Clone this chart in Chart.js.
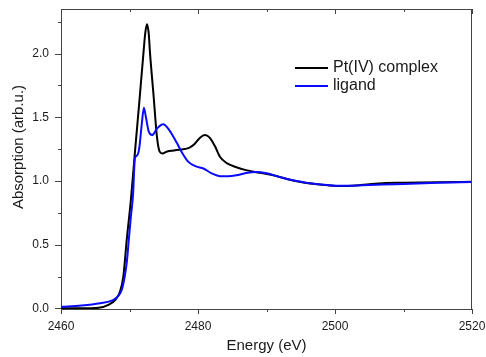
<!DOCTYPE html>
<html>
<head>
<meta charset="utf-8">
<script src="https://cdn.jsdelivr.net/npm/chart.js@4/dist/chart.umd.min.js"></script>
<style>
html,body{margin:0;padding:0;background:#fff;}
canvas{display:block;}
</style>
</head>
<body>
<canvas id="c" width="486" height="357"></canvas>
<script>
// ---- data ----
const energyComplex = [2460, 2463, 2465.5, 2467, 2468, 2468.6, 2469.1, 2469.6, 2470.2, 2470.8, 2471.4, 2472.0, 2472.3, 2472.55, 2472.8, 2473.0, 2473.5, 2474.0, 2474.4, 2474.8, 2475.5, 2476.5, 2477.5, 2478.7, 2479.5, 2480.3, 2481.0, 2481.7, 2482.5, 2483.2, 2484.2, 2485.5, 2487, 2489, 2491, 2493, 2495, 2497, 2499, 2501, 2503, 2505, 2507, 2510, 2515, 2520];
const absComplex    = [0.0, 0.0, 0.005, 0.03, 0.07, 0.13, 0.25, 0.54, 0.85, 1.23, 1.6, 1.98, 2.16, 2.23, 2.16, 2.0, 1.68, 1.35, 1.23, 1.215, 1.232, 1.24, 1.247, 1.26, 1.29, 1.34, 1.36, 1.34, 1.27, 1.19, 1.14, 1.11, 1.085, 1.065, 1.045, 1.015, 0.992, 0.977, 0.966, 0.96, 0.965, 0.975, 0.983, 0.986, 0.99, 0.993];

const energyLigand = [2460, 2463, 2465.7, 2467.6, 2468.4, 2468.9, 2469.3, 2469.6, 2469.9, 2470.2, 2470.5, 2470.8, 2471.1, 2471.4, 2471.8, 2472.1, 2472.4, 2472.8, 2473.3, 2474.0, 2474.9, 2475.8, 2476.9, 2477.7, 2478.6, 2479.7, 2480.8, 2482, 2483.2, 2484.4, 2485.6, 2487, 2488.5, 2490, 2492, 2494, 2496, 2498, 2500, 2502, 2504, 2507, 2510, 2515, 2520];
const absLigand    = [0.013, 0.022, 0.04, 0.065, 0.1, 0.15, 0.25, 0.36, 0.54, 0.72, 0.88, 1.18, 1.2, 1.25, 1.45, 1.575, 1.5, 1.39, 1.36, 1.41, 1.445, 1.40, 1.3, 1.22, 1.15, 1.115, 1.098, 1.06, 1.038, 1.038, 1.045, 1.062, 1.07, 1.06, 1.03, 1.003, 0.985, 0.972, 0.963, 0.962, 0.966, 0.972, 0.977, 0.986, 0.992];

const seriesNames = ['Pt(IV) complex', 'ligand'];
const xTickValues = [2460, 2470, 2480, 2490, 2500, 2510, 2520];
const xTickLabels = ['2460', '', '2480', '', '2500', '', '2520'];
const yTickValues = [0, 0.25, 0.5, 0.75, 1.0, 1.25, 1.5, 1.75, 2.0, 2.25];
const yTickLabels = ['0.0', '', '0.5', '', '1.0', '', '1.5', '', '2.0', ''];
const xTitle = 'Energy (eV)';
const yTitle = 'Absorption (arb.u.)';

// ---- styling ----
const FONT = '"Liberation Sans", Arial, sans-serif';
const AXIS_COLOR = '#444';
const TEXT_COLOR = '#1a1a1a';
const colorComplex = '#000000';
const colorLigand = '#0a0aff';

const toPts = (xs, ys) => xs.map((x, i) => ({x: x, y: ys[i]}));

const frameTicks = {
  id: 'frameTicks',
  afterDatasetsDraw(chart) {
    const {ctx, chartArea: a, scales: {x, y}} = chart;
    ctx.save();
    ctx.strokeStyle = AXIS_COLOR;
    ctx.lineWidth = 1;
    // top and right frame
    ctx.beginPath();
    ctx.moveTo(a.left, a.top + 0.5); ctx.lineTo(a.right, a.top + 0.5);
    ctx.moveTo(a.right - 0.5, a.top); ctx.lineTo(a.right - 0.5, a.bottom);
    ctx.stroke();
    ctx.beginPath();
    xTickValues.forEach((v, i) => {
      const px = Math.round(x.getPixelForValue(v)) + 0.5;
      const major = xTickLabels[i] !== '';
      const len = major ? 5 : 3;
      ctx.moveTo(px, a.bottom); ctx.lineTo(px, a.bottom + len);
      ctx.moveTo(px, a.top); ctx.lineTo(px, a.top + len);
    });
    yTickValues.forEach((v, i) => {
      const py = Math.round(y.getPixelForValue(v)) + 0.5;
      const major = yTickLabels[i] !== '';
      const len = major ? 6 : 3;
      ctx.moveTo(a.left, py); ctx.lineTo(a.left - len, py);
    });
    ctx.stroke();

    // y axis title
    ctx.save();
    ctx.translate(19, 147);
    ctx.rotate(-Math.PI / 2);
    ctx.font = '15px ' + FONT;
    ctx.fillStyle = TEXT_COLOR;
    ctx.textAlign = 'center';
    ctx.textBaseline = 'middle';
    ctx.fillText(yTitle, 0, 0);
    ctx.restore();

    // legend
    const items = [
      {name: seriesNames[0], color: colorComplex, y: 68},
      {name: seriesNames[1], color: colorLigand, y: 86}
    ];
    ctx.font = '16px ' + FONT;
    ctx.textBaseline = 'middle';
    ctx.textAlign = 'left';
    items.forEach(it => {
      ctx.strokeStyle = it.color;
      ctx.lineWidth = 2;
      ctx.beginPath();
      ctx.moveTo(295, it.y); ctx.lineTo(328, it.y);
      ctx.stroke();
      ctx.fillStyle = TEXT_COLOR;
      ctx.fillText(it.name, 333, it.y);
    });
    ctx.restore();
  }
};

new Chart(document.getElementById('c'), {
  type: 'line',
  data: {
    datasets: [
      {label: seriesNames[1], data: toPts(energyLigand, absLigand), borderColor: colorLigand, borderWidth: 2, pointRadius: 0, fill: false, cubicInterpolationMode: 'monotone'},
      {label: seriesNames[0], data: toPts(energyComplex, absComplex), borderColor: colorComplex, borderWidth: 2, pointRadius: 0, fill: false, cubicInterpolationMode: 'monotone'}
    ]
  },
  options: {
    responsive: false,
    animation: false,
    devicePixelRatio: 1,
    layout: {padding: {left: 0, right: 14, top: 9, bottom: 0}},
    plugins: {legend: {display: false}, tooltip: {enabled: false}},
    scales: {
      x: {
        type: 'linear', min: 2460, max: 2520,
        afterBuildTicks: s => { s.ticks = xTickValues.map(v => ({value: v})); },
        afterFit: s => { s.height = 48; s.paddingRight = 0; s.paddingLeft = 0; },
        ticks: {
          autoSkip: false, maxRotation: 0, padding: 10, color: TEXT_COLOR,
          font: {family: FONT, size: 12},
          callback: (v) => { const i = xTickValues.indexOf(v); return i >= 0 ? xTickLabels[i] : ''; }
        },
        grid: {display: false, drawTicks: false},
        border: {display: true, color: AXIS_COLOR, width: 1},
        title: {display: true, text: xTitle, color: TEXT_COLOR, font: {family: FONT, size: 15}, padding: {top: 0, bottom: 2}}
      },
      y: {
        type: 'linear', min: -0.005, max: 2.35,
        afterBuildTicks: s => { s.ticks = yTickValues.map(v => ({value: v})); },
        afterFit: s => { s.width = 61; s.paddingTop = 0; s.paddingBottom = 0; },
        ticks: {
          autoSkip: false, padding: 12, color: TEXT_COLOR,
          font: {family: FONT, size: 12},
          callback: (v) => { const i = yTickValues.indexOf(v); return i >= 0 ? yTickLabels[i] : ''; }
        },
        grid: {display: false, drawTicks: false},
        border: {display: true, color: AXIS_COLOR, width: 1},
        title: {display: false}
      }
    }
  },
  plugins: [frameTicks]
});
</script>
</body>
</html>
